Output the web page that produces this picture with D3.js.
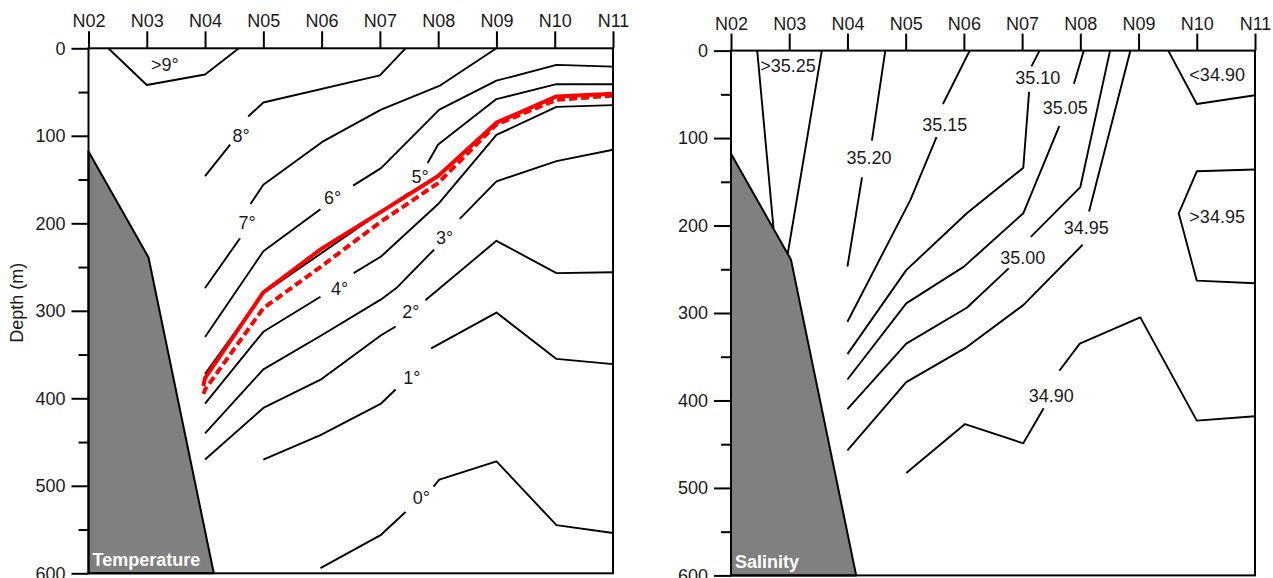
<!DOCTYPE html>
<html><head><meta charset="utf-8">
<script src="https://cdn.jsdelivr.net/npm/d3@7"></script>
<style>
body{margin:0;background:#fff;}
svg text{font-family:"Liberation Sans",Arial,Helvetica,sans-serif;}
</style></head><body>
<svg id="chart" width="1273" height="578"></svg>
<script>
// ---------- data ----------
const stations = ["N02","N03","N04","N05","N06","N07","N08","N09","N10","N11"];
const depthTicks = [0,100,200,300,400,500,600];
const depthMinorTicks = [50,150,250,350,450,550];
const bathymetry = [[0,118],[1.03,239],[2.15,600],[0,600]];

// Temperature isotherms: [station index, depth m], one array per segment
const t9 = [[[0.34,0],[1.0,42],[2.0,30],[2.58,0]]];
const t8 = [[[5.44,0],[5.0,31],[3.0,62],[2.74,78]],[[2.43,110],[2.0,146]]];
const t7 = [[[7.0,0],[6.02,43],[5.02,70],[4.01,107],[3.0,156],[2.78,178]],[[2.6,217],[2.0,274]]];
const t6 = [[[9,21],[8.03,19],[7.0,37],[6.02,70],[5.02,137],[4.54,157]],[[3.98,184],[3.0,232],[2.0,330]]];
const t5 = [[[9,41],[8.03,41],[7.0,58],[6.0,110],[5.82,131]],[[5.5,165],[5.02,187],[3.0,280],[2.0,372]]];
const t4 = [[[9,65],[8.03,67],[7.0,99],[6.0,178],[5.02,238],[4.55,257]],[[3.98,284],[3.0,324],[2.0,406]]];
const t3 = [[[9,116],[8.03,129],[7.0,152],[6.37,195]],[[5.93,230],[5.3,273],[5.02,287],[4.0,328],[3.0,367],[2.0,440]]];
const t2 = [[[9,256],[8.03,257],[7.0,220],[5.78,288]],[[5.27,318],[5.02,328],[4.0,378],[3.0,411],[2.0,470]]];
const t1 = [[[9,361],[8.03,355],[7.0,302],[5.88,343]],[[5.27,390],[5.02,406],[3.98,442],[3.0,470]]];
const t0 = [[[9,554],[8.03,545],[7.0,472],[6.02,493],[5.92,501]],[[5.44,530],[5.02,556],[3.98,594]]];
const tempLabels = [[">9°",1.31,19],["8°",2.62,100],["7°",2.72,199],["6°",4.19,171],["5°",5.69,147],
  ["4°",4.31,274],["3°",6.11,216],["2°",5.53,301],["1°",5.55,376],["0°",5.71,513]];
const redSolid = [[9,52],[8.03,55],[7.0,85],[6.0,146],[5.02,187],[4.0,229],[3.0,279],[2.0,377],[1.97,386]];
const redDashed = [[9,54],[8.03,59],[7.0,87],[6.0,154],[5.02,198],[4.0,249],[3.0,297],[2.0,390],[1.97,396]];

// Salinity isohalines
const sGt3525 = [[[0.45,0],[0.73,203]],[[1.56,0],[0.97,234]]];
const s3520 = [[[2.65,0],[2.42,103]],[[2.25,145],[2.0,247]]];
const s3515 = [[[4.1,0],[3.64,61]],[[3.53,99],[3.08,171],[2.0,310]]];
const s3510 = [[[5.3,0],[5.16,18]],[[5.12,47],[5.02,134],[4.05,186],[3.01,251],[2.0,347]]];
const s3505 = [[[6.06,0],[5.89,38]],[[5.64,86],[5.02,186],[4.0,247],[3.01,289],[2.0,376]]];
const s3500 = [[[6.51,0],[6.0,156],[5.15,213]],[[4.77,249],[4.05,294],[3.01,335],[2.0,410]]];
const s3495 = [[[6.86,0],[6.15,184]],[[6.04,222],[5.02,291],[4.05,339],[3.01,379],[2.0,457]]];
const sLt3490 = [[[7.51,0],[8.0,61],[9,51]]];
const sGt3495 = [[[9,136],[8.0,138],[7.69,186],[8.0,263],[9,266]]];
const s3490 = [[[9,418],[8.0,423],[7.03,305],[5.99,335],[5.64,366]],[[5.37,409],[5.02,449],[4.02,427],[3.01,483]]];
const salLabels = [[">35.25",0.98,17],["35.20",2.37,122],["35.15",3.67,84],["35.10",5.27,31],["35.05",5.74,65],
  ["35.00",5.01,237],["34.95",6.1,202],["<34.90",8.35,27],[">34.95",8.35,190],["34.90",5.5,394]];

const tempContours = [t9,t8,t7,t6,t5,t4,t3,t2,t1,t0];
const salContours = [sGt3525,s3520,s3515,s3510,s3505,s3500,s3495,sLt3490,sGt3495,s3490];

// ---------- drawing ----------
const svg = d3.select("#chart");
const FS = 18;

function panel(x0, x1, y0, y1, contours, labels, reds, title, showYTitle){
  const x = d3.scaleLinear().domain([0, stations.length-1]).range([x0, x1]);
  const y = d3.scaleLinear().domain([0, 600]).range([y0, y1]);
  const line = d3.line().x(d => x(d[0])).y(d => y(d[1]));
  const g = svg.append("g");

  contours.forEach(c => c.forEach(seg => {
    g.append("path").attr("d", line(seg)).attr("fill","none")
      .attr("stroke","#000").attr("stroke-width",1.9).attr("stroke-linejoin","round");
  }));
  if (reds){
    g.append("path").attr("d", line(reds[0])).attr("fill","none")
      .attr("stroke","#ff0000").attr("stroke-width",4).attr("stroke-linejoin","round");
    g.append("path").attr("d", line(reds[1])).attr("fill","none")
      .attr("stroke","#ff0000").attr("stroke-width",4).attr("stroke-dasharray","8,4");
  }
  g.append("path").attr("d", line(bathymetry) + "Z")
    .attr("fill","#808080").attr("stroke","#000").attr("stroke-width",2).attr("stroke-linejoin","round");

  g.selectAll("text.cl").data(labels).join("text").attr("class","cl")
    .attr("x", d => x(d[1])).attr("y", d => y(d[2]))
    .attr("text-anchor","middle").attr("dy","0.36em")
    .attr("font-size", FS).attr("fill","#1a1a1a").text(d => d[0]);

  g.append("text").attr("x", x(0)+4).attr("y", y(600)-7)
    .attr("font-size", FS).attr("font-weight","bold").attr("fill","#fff").text(title);

  g.append("rect").attr("x", x0).attr("y", y0).attr("width", x1-x0).attr("height", y1-y0)
    .attr("fill","none").attr("stroke","#000").attr("stroke-width",2);

  const top = g.append("g").attr("transform", `translate(0,${y0})`)
    .call(d3.axisTop(x).tickValues(d3.range(stations.length)).tickFormat(i => stations[i]).tickSize(17).tickPadding(4));
  const left = g.append("g").attr("transform", `translate(${x0},0)`)
    .call(d3.axisLeft(y).tickValues(depthTicks).tickSize(17).tickPadding(6));
  const minor = g.append("g").attr("transform", `translate(${x0},0)`)
    .call(d3.axisLeft(y).tickValues(depthMinorTicks).tickSize(10).tickFormat(""));
  [top, left, minor].forEach(a => {
    a.select(".domain").remove();
    a.selectAll("line").attr("stroke","#000").attr("stroke-width",2);
    a.selectAll("text").attr("font-size", FS).attr("fill","#1a1a1a")
      .attr("font-family",'"Liberation Sans",Arial,sans-serif');
  });

  if (showYTitle){
    g.append("text").attr("transform", `translate(17,${(y0+y1)/2-8}) rotate(-90)`)
      .attr("text-anchor","middle").attr("dy","0.35em").attr("font-size", 18)
      .attr("fill","#1a1a1a").text("Depth (m)");
  }
}

panel(88.5, 613, 48.3, 573.3, tempContours, tempLabels, [redSolid, redDashed], "Temperature", true);
panel(731, 1255, 50.6, 575.4, salContours, salLabels, null, "Salinity", false);
</script>
</body></html>
